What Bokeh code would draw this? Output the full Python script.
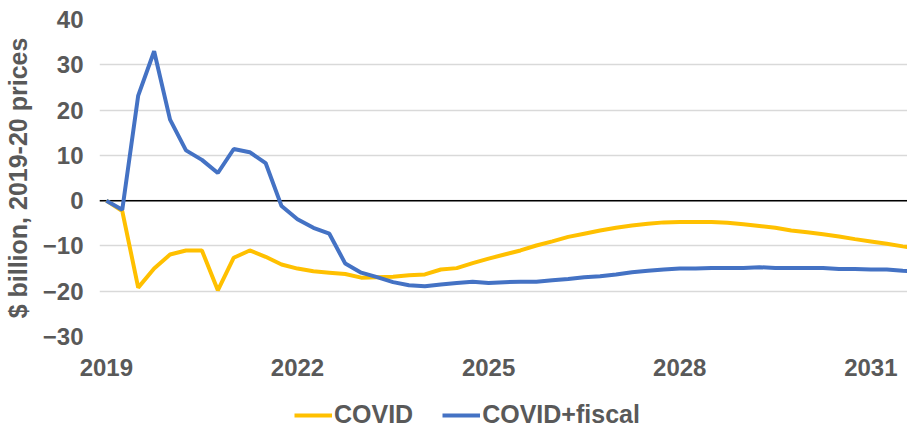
from bokeh.plotting import figure
from bokeh.layouts import column
from bokeh.models import (Range1d, FixedTicker, Span, Legend, LegendItem,
                          ColumnDataSource)
from bokeh.embed import file_html
from bokeh.resources import INLINE

# Quarterly deviation from baseline, $ billion (2019-20 prices)
covid = [0, -2.3, -19.2, -15.0, -11.9, -11.0, -11.0, -19.8, -12.6, -11.0,
         -12.4, -14.1, -15.0, -15.6, -15.9, -16.2, -17.0, -16.9, -16.8, -16.5,
         -16.3, -15.2, -14.9, -13.8, -12.8, -11.9, -11.0, -9.9, -9.0, -8.0,
         -7.3, -6.6, -6.0, -5.5, -5.1, -4.8, -4.7, -4.7, -4.7, -4.9,
         -5.2, -5.6, -6.0, -6.6, -7.0, -7.4, -7.9, -8.5, -9.0, -9.5,
         -10.1, -10.5]
covid_fiscal = [0, -2.0, 23.2, 33.0, 17.9, 11.1, 9.0, 6.1, 11.4, 10.7,
                8.3, -1.2, -4.1, -6.0, -7.3, -13.9, -15.9, -16.9, -18.0, -18.7,
                -18.9, -18.5, -18.2, -17.9, -18.2, -18.0, -17.9, -17.9, -17.6, -17.3,
                -16.9, -16.7, -16.3, -15.8, -15.5, -15.2, -15.0, -15.0, -14.9, -14.9,
                -14.9, -14.7, -14.9, -14.9, -14.9, -14.9, -15.1, -15.1, -15.2, -15.2,
                -15.5, -15.6]
quarter = list(range(len(covid)))
tick_quarters = [0, 12, 24, 36, 48]
tick_labels = ["2019", "2022", "2025", "2028", "2031"]
y_ticks = [-30, -20, -10, 0, 10, 20, 30, 40]
series_names = ["COVID", "COVID+fiscal"]
series_colors = ["#FFC000", "#4472C4"]

TEXT = "#595959"
FONT = "Liberation Sans"

src = ColumnDataSource(dict(q=quarter, covid=covid, fiscal=covid_fiscal))

p = figure(width=907, height=401, output_backend="svg", toolbar_location=None,
           x_range=Range1d(-0.43, 50.3), y_range=Range1d(-30, 40),
           min_border_left=99, min_border_right=0, min_border_top=19,
           min_border_bottom=65)
p.outline_line_color = None
p.background_fill_color = "white"
p.border_fill_color = "white"

# gridlines
p.xgrid.visible = False
p.ygrid.ticker = FixedTicker(ticks=y_ticks)
p.ygrid.grid_line_color = "#D9D9D9"
p.ygrid.grid_line_width = 1.5

# axes
p.yaxis.ticker = FixedTicker(ticks=y_ticks)
p.yaxis.axis_line_color = None
p.yaxis.major_tick_line_color = None
p.yaxis.minor_tick_line_color = None
p.yaxis.major_tick_out = 0
p.yaxis.major_tick_in = 0
p.yaxis.major_label_standoff = 16
p.yaxis.major_label_text_font = FONT
p.yaxis.major_label_text_font_style = "bold"
p.yaxis.major_label_text_font_size = "24px"
p.yaxis.major_label_text_color = TEXT
p.yaxis.axis_label = "$ billion, 2019-20 prices"
p.yaxis.axis_label_text_font = FONT
p.yaxis.axis_label_text_font_style = "bold"
p.yaxis.axis_label_text_font_size = "25px"
p.yaxis.axis_label_text_color = TEXT
p.yaxis.axis_label_standoff = 8

p.xaxis.ticker = FixedTicker(ticks=tick_quarters)
p.xaxis.major_label_overrides = {q: t for q, t in zip(tick_quarters, tick_labels)}
p.xaxis.axis_line_color = None
p.xaxis.major_tick_line_color = None
p.xaxis.minor_tick_line_color = None
p.xaxis.major_tick_out = 0
p.xaxis.major_tick_in = 0
p.xaxis.major_label_standoff = 22
p.xaxis.major_label_text_font = FONT
p.xaxis.major_label_text_font_style = "bold"
p.xaxis.major_label_text_font_size = "24px"
p.xaxis.major_label_text_color = TEXT

p.add_layout(Span(location=0, dimension="width", line_color="black",
                  line_width=1.5, level="underlay"))

p.line("q", "covid", source=src, line_color=series_colors[0], line_width=4)
p.line("q", "fiscal", source=src, line_color=series_colors[1], line_width=4)

# legend strip under the chart; single-point lines act as legend swatches only.
# Its frame lines up with the chart frame, so the legend is offset in pixels.
leg = figure(width=907, height=26, output_backend="svg", toolbar_location=None,
             x_axis_type=None, y_axis_type=None,
             x_range=Range1d(0, 1), y_range=Range1d(0, 1),
             min_border_left=99, min_border_right=0, min_border_top=0,
             min_border_bottom=0)
leg.outline_line_color = None
leg.grid.visible = False
proxies = [leg.line(x=[-5], y=[-5], line_color=c, line_width=4)
           for c in series_colors]
legend = Legend(items=[LegendItem(label=n, renderers=[r])
                       for n, r in zip(series_names, proxies)],
                orientation="horizontal", location=(195, -2),
                label_text_font=FONT, label_text_font_style="bold",
                label_text_font_size="25px", label_text_color=TEXT,
                glyph_width=38, glyph_height=20, label_standoff=2, spacing=29,
                padding=0, margin=0, border_line_color=None,
                background_fill_alpha=0)
leg.add_layout(legend, "center")

open("out.html", "w").write(file_html(column(p, leg, spacing=0), INLINE))
